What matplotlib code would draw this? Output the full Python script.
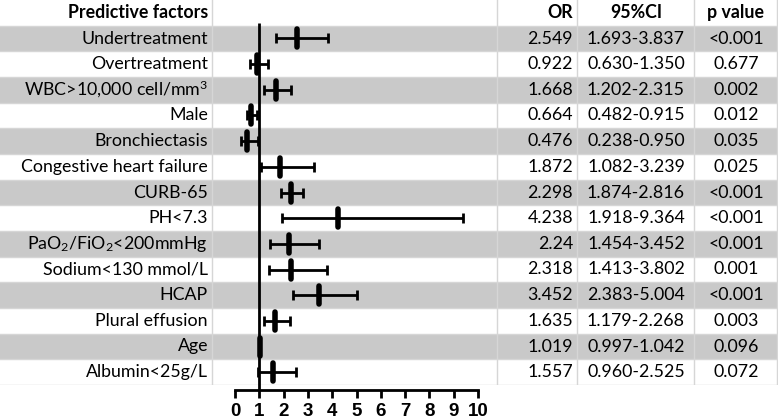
import numpy as np
import matplotlib
matplotlib.use('Agg')
import matplotlib.pyplot as plt
from matplotlib.markers import MarkerStyle

plt.rcParams['font.family'] = ['Lato', 'DejaVu Sans']
plt.rcParams['mathtext.fontset'] = 'custom'
plt.rcParams['mathtext.rm'] = 'Lato'
plt.rcParams['mathtext.it'] = 'Lato:italic'
plt.rcParams['mathtext.bf'] = 'Lato:bold'

factors = ['Undertreatment', 'Overtreatment', r'WBC>10,000 cell/mm$^3$', 'Male',
           'Bronchiectasis', 'Congestive heart failure', 'CURB-65', 'PH<7.3',
           r'PaO$_2$/FiO$_2$<200mmHg', 'Sodium<130 mmol/L', 'HCAP',
           'Plural effusion', 'Age', 'Albumin<25g/L']
odds = [2.549, 0.922, 1.668, 0.664, 0.476, 1.872, 2.298, 4.238, 2.24, 2.318,
        3.452, 1.635, 1.019, 1.557]
ci_low = [1.693, 0.630, 1.202, 0.482, 0.238, 1.082, 1.874, 1.918, 1.454, 1.413,
          2.383, 1.179, 0.997, 0.960]
ci_high = [3.837, 1.350, 2.315, 0.915, 0.950, 3.239, 2.816, 9.364, 3.452, 3.802,
           5.004, 2.268, 1.042, 2.525]
or_text = ['2.549', '0.922', '1.668', '0.664', '0.476', '1.872', '2.298', '4.238',
           '2.24', '2.318', '3.452', '1.635', '1.019', '1.557']
ci_text = ['1.693-3.837', '0.630-1.350', '1.202-2.315', '0.482-0.915', '0.238-0.950',
           '1.082-3.239', '1.874-2.816', '1.918-9.364', '1.454-3.452', '1.413-3.802',
           '2.383-5.004', '1.179-2.268', '0.997-1.042', '0.960-2.525']
p_text = ['<0.001', '0.677', '0.002', '0.012', '0.035', '0.025', '<0.001', '<0.001',
          '<0.001', '0.001', '<0.001', '0.003', '0.096', '0.072']
ticks = list(range(0, 11))

W, H = 778, 418
fig = plt.figure(figsize=(W / 100, H / 100), dpi=100)
fig.patch.set_facecolor('white')

n = len(factors)
tab_h = 385
bottom = 1 - tab_h / H
gray = '#c9c9c9'
border = '#d6d6d6'

# table background
tab = fig.add_axes([0, bottom, 1, tab_h / H])
tab.set_xlim(0, W)
tab.set_ylim(n + 0.5, -0.5)
tab.axis('off')
for i in range(1, n + 1):
    if i % 2 == 1:
        tab.axhspan(i - 0.5, i + 0.5, color=gray, lw=0, zorder=0)
for i in range(n + 1):
    tab.axhline(i + 0.5, color=border, lw=1, zorder=1)
for xc in [212, 497, 577, 694, 777]:
    tab.axvline(xc, color=border, lw=1, zorder=1)

fs = 12.8
tab.text(208, 0, 'Predictive factors', ha='right', va='center', fontsize=fs, fontweight='bold')
tab.text(573, 0, 'OR', ha='right', va='center', fontsize=fs, fontweight='bold')
tab.text(636, 0, '95%CI', ha='center', va='center', fontsize=fs, fontweight='bold')
tab.text(736, 0, 'p value', ha='center', va='center', fontsize=fs, fontweight='bold')
for i in range(n):
    y = i + 1
    tab.text(208, y, factors[i], ha='right', va='center', fontsize=fs)
    tab.text(573, y, or_text[i], ha='right', va='center', fontsize=fs)
    tab.text(636, y, ci_text[i], ha='center', va='center', fontsize=fs)
    tab.text(736, y, p_text[i], ha='center', va='center', fontsize=fs)

# forest plot
x0, x10 = 235, 478
scale = (x10 - x0) / 10
ax = fig.add_axes([212 / W, bottom, (497 - 212) / W, tab_h / H])
ax.set_facecolor('none')
ax.set_xlim((212 - x0) / scale, (497 - x0) / scale)
ax.set_ylim(n + 0.5, -0.5)
ypos = np.arange(1, n + 1)
odds_a = np.array(odds)
err = [odds_a - np.array(ci_low), np.array(ci_high) - odds_a]
ax.errorbar(odds_a, ypos, xerr=err, fmt='none', ecolor='black', elinewidth=2,
            capsize=3.8, capthick=2, zorder=3)
bar = MarkerStyle('|', capstyle='round')
ax.plot(odds_a, ypos, ls='none', marker=bar, ms=13, mew=4, color='black', zorder=4)
ax.vlines(1, 0.4, n + 0.7, color='black', lw=2, clip_on=False, zorder=2)

for s in ['top', 'right', 'left']:
    ax.spines[s].set_visible(False)
ax.spines['bottom'].set_position(('outward', 3.6))
ax.spines['bottom'].set_bounds(0, 10)
ax.spines['bottom'].set_linewidth(2)
ax.set_yticks([])
ax.set_xticks(ticks)
ax.tick_params(axis='x', length=6, width=2, pad=3)
for lab in ax.get_xticklabels():
    lab.set_fontfamily('Liberation Sans')
    lab.set_fontweight('bold')
    lab.set_fontsize(13.5)

fig.savefig('out.png', dpi=100)
